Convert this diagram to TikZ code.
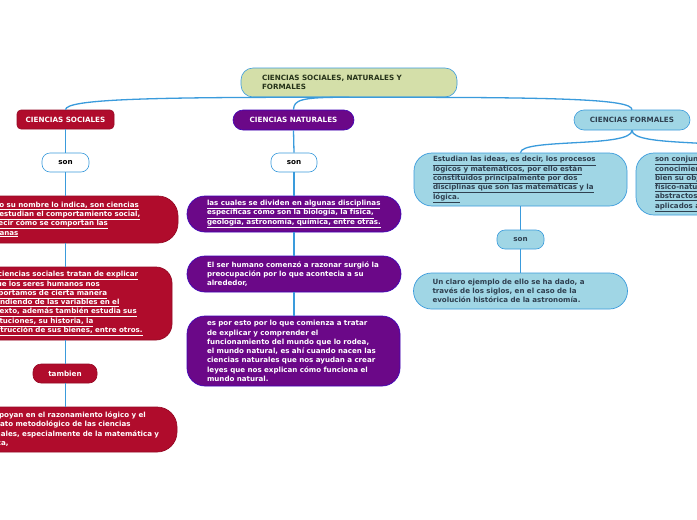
\documentclass[tikz,border=0pt]{standalone}
\usepackage{fontspec}
\setmainfont{DejaVu Sans}
\usetikzlibrary{positioning}
\definecolor{linkblue}{HTML}{3A9BDC}
\definecolor{rootgreen}{HTML}{D4DFA9}
\definecolor{roottext}{HTML}{26331A}
\definecolor{socred}{HTML}{B00C2C}
\definecolor{natpurple}{HTML}{6B0888}
\definecolor{formblue}{HTML}{A0D6E5}
\definecolor{formtext}{HTML}{2F4050}
\newcommand{\ulln}[1]{\underline{#1}}
\newcommand{\pln}[1]{\mbox{#1}}
\begin{document}
\begin{tikzpicture}[
  x=1pt, y=-1pt,
  head/.style={draw, rounded corners=4pt, minimum height=19pt, inner sep=0pt, line width=0.6pt,
    font=\bfseries\fontsize{7.2}{9.3}\selectfont},
  leaf/.style={draw, inner xsep=20pt, inner ysep=0pt, align=left, line width=0.7pt,
    font=\bfseries\fontsize{7.1}{9.3}\selectfont},
  socbox/.style={fill=socred, draw=socred!85!black, text=white},
  natbox/.style={fill=natpurple, draw=natpurple!60!blue, text=white},
  formbox/.style={fill=formblue, draw=linkblue, text=formtext},
  sonbox/.style={fill=white, draw=linkblue, text=black},
  link/.style={draw=linkblue, line width=1.3pt}
]
\useasboundingbox (0,0) rectangle (697,520);
\fill[white] (0,0) rectangle (697,520);
\clip (0,0) rectangle (697,520);

\node[head, fill=rootgreen, draw=linkblue, text=roottext, rounded corners=12pt, minimum width=216pt,
  minimum height=29pt, text width=174pt, inner xsep=21pt, align=left] (root) at (349,82.5)
  {CIENCIAS SOCIALES, NATURALES Y\\FORMALES};

\node[head, socbox, minimum width=97pt] (sociales) at (65.5,119.5) {CIENCIAS SOCIALES};
\node[head, natbox, rounded corners=10pt, minimum width=121pt, minimum height=20pt] (naturales) at (293.5,120) {CIENCIAS NATURALES};
\node[head, formbox, rounded corners=10pt, minimum width=116pt, minimum height=20pt] (formales) at (632,120) {CIENCIAS FORMALES};

\node[head, sonbox, rounded corners=8pt, minimum width=47pt] (sonsoc) at (65.5,162.5) {son};
\node[head, sonbox, rounded corners=8pt, minimum width=46pt] (sonnat) at (294,162.5) {son};
\node[head, formbox, rounded corners=8pt, minimum width=47pt] (sonform) at (520.5,239.5) {son};
\node[head, socbox, rounded corners=8pt, minimum width=64pt] (tambien) at (65,373.5) {tambien};

\node[leaf, socbox, inner xsep=10pt, rounded corners=20pt, text width=186pt, minimum height=47pt] (socuno) at (75,219.5)
  {\ulln{Como su nombre lo indica, son ciencias}\\\ulln{que estudian el comportamiento social,}\\
   \ulln{es decir cómo se  comportan las}\\\ulln{humanas}};
\node[leaf, socbox, inner xsep=10pt, rounded corners=16pt, text width=180pt, minimum height=73pt] (socdos) at (72,303.5)
  {\ulln{Las ciencias sociales tratan de explicar}\\\ulln{lo que los seres  humanos nos}\\
   \ulln{comportamos de  cierta   manera}\\\ulln{entendiendo de las variables en el}\\
   \ulln{contexto, además también estudia sus}\\\ulln{instituciones, su historia,  la}\\
   \ulln{construcción de sus bienes, entre otros.}};
\node[leaf, socbox, inner xsep=10pt, rounded corners=20pt, text width=185pt, minimum height=45pt] (soctres) at (74.5,429.5)
  {\pln{Se apoyan en el razonamiento lógico y el}\\\pln{aparato metodológico de las ciencias}\\
   \pln{formales, especialmente de la matemática y}\\\pln{lógica,}};

\node[leaf, natbox, rounded corners=18pt, text width=174pt, minimum height=36pt] (natuno) at (294,214)
  {\ulln{las cuales  se dividen en algunas  disciplinas}\\\ulln{específicas cómo  son la biología, la física,}\\
   \ulln{geología, astronomía, química, entre otras.}};
\node[leaf, natbox, rounded corners=18pt, text width=174pt, minimum height=36pt] (natdos) at (294,274)
  {\pln{El ser  humano comenzó a razonar surgió  la}\\\pln{preocupación por  lo que  acontecia a su}\\\pln{alrededor,}};
\node[leaf, natbox, rounded corners=18pt, text width=173pt, minimum height=70pt] (nattres) at (293.5,351)
  {\pln{es por  esto  por  lo que  comienza a tratar}\\\pln{de  explicar  y comprender el}\\
   \pln{funcionamiento del mundo  que  lo rodea,}\\\pln{el mundo  natural, es ahí cuando nacen  las}\\
   \pln{ciencias naturales que  nos ayudan a crear}\\\pln{leyes  que  nos explican cómo funciona  el}\\\pln{mundo  natural.}};

\node[leaf, formbox, inner xsep=19pt, rounded corners=18pt, text width=175pt, minimum height=53pt] (formuno) at (520.5,179.5)
  {\ulln{Estudian las ideas,  es  decir,  los procesos}\\\ulln{lógicos y matemáticos, por ello están}\\
   \ulln{constituidos principalmente por  dos}\\\ulln{disciplinas  que  son  las matemáticas y la}\\\ulln{lógica.}};
\node[leaf, formbox, inner xsep=19pt, rounded corners=18pt, text width=176pt, minimum height=62pt] (formdos) at (743,184)
  {\ulln{son conjuntos de}\\\ulln{conocimientos cuyo}\\\ulln{bien su objeto no es}\\
   \ulln{físico-natural sino}\\\ulln{abstractos}\\\ulln{aplicados a}};
\node[leaf, formbox, inner xsep=19pt, rounded corners=18pt, text width=176pt, minimum height=36pt] (formtres) at (520.5,291)
  {\pln{Un claro ejemplo de ello se ha dado, a}\\\pln{través de los siglos, en el caso de la}\\\pln{evolución histórica de la astronomía.}};

\draw[link] (root.south) .. controls (150,97) and (66,99) .. (sociales.north);
\draw[link] (root.south) .. controls (300,97) and (294,100) .. (naturales.north);
\draw[link] (root.south) .. controls (560,97) and (632,99) .. (formales.north);

\draw[link] (sociales.south) -- (sonsoc.north);
\draw[link] (sonsoc.south) -- (sonsoc.south |- socuno.north);
\draw[link] (sonsoc.south |- socuno.south) -- (sonsoc.south |- socdos.north);
\draw[link] (sonsoc.south |- socdos.south) -- (sonsoc.south |- tambien.north);
\draw[link] (sonsoc.south |- tambien.south) -- (sonsoc.south |- soctres.north);

\draw[link] (naturales.south) -- (sonnat.north);
\draw[link] (sonnat.south) -- (sonnat.south |- natuno.north);
\draw[link] (sonnat.south |- natuno.south) -- (sonnat.south |- natdos.north);
\draw[link] (sonnat.south |- natdos.south) -- (sonnat.south |- nattres.north);

\draw[link] (formales.south) .. controls (632,148) and (521,138) .. (formuno.north);
\draw[link] (formales.south) .. controls (632,148) and (743,138) .. (formdos.north);
\draw[link] (formuno.south) -- (sonform.north);
\draw[link] (sonform.south) -- (formtres.north);
\end{tikzpicture}
\end{document}
